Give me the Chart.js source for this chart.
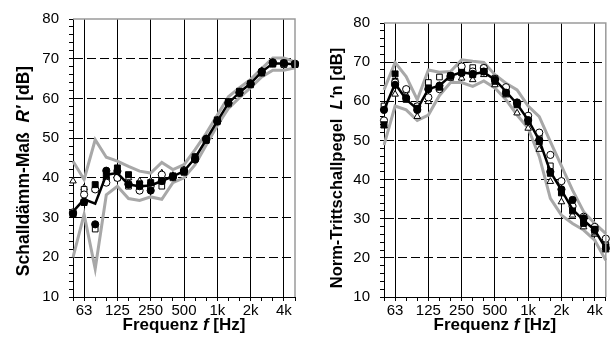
<!DOCTYPE html>
<html>
<head>
<meta charset="utf-8">
<script src="https://cdn.jsdelivr.net/npm/chart.js@4.4.1/dist/chart.umd.min.js"></script>
<style>
  html, body { margin: 0; padding: 0; background: #fff; }
  #wrap { position: relative; width: 611px; height: 342px; overflow: hidden; }
  canvas { position: absolute; top: 0; }
</style>
</head>
<body>
<div id="wrap">
  <canvas id="chart-r" width="305" height="342" style="left:0"></canvas>
  <canvas id="chart-l" width="306" height="342" style="left:305px"></canvas>
</div>
<script>
// third-octave bands 50 Hz .. 5 kHz
const bands = ['50', '63', '80', '100', '125', '160', '200', '250', '315', '400', '500',
               '630', '800', '1000', '1250', '1600', '2000', '2500', '3150', '4000', '5000'];
const tickLabels = ['', '63', '', '', '125', '', '', '250', '', '', '500',
                    '', '', '1k', '', '', '2k', '', '', '4k', ''];
const yTicks = { min: 10, max: 80, step: 2, labelEvery: 10 };

// --- Schalldämm-Maß R' ---
const rMean   = [31.5, 34.6, 33.5, 40.8, 41.2, 38.3, 37.9, 38.1, 39.2, 40.4, 41.7, 45.0, 49.6, 54.3, 58.8, 61.5, 63.8, 66.7, 68.8, 68.8, 68.6];
const rUpper  = [44.2, 39.6, 49.6, 45.2, 44.2, 42.9, 41.7, 41.2, 43.9, 42.1, 43.3, 47.1, 51.2, 55.8, 60.4, 62.7, 64.8, 67.5, 70.2, 70.2, 69.2];
const rLower  = [20.0, 30.8, 17.1, 35.7, 37.9, 34.8, 34.3, 35.2, 34.6, 38.8, 40.0, 43.3, 48.3, 53.2, 57.5, 60.2, 62.7, 65.4, 67.1, 67.1, 67.7];
const rDotA   = [31.0, 34.0, 28.3, 41.8, 41.7, 38.3, 37.9, 36.8, 39.2, 40.3, 41.7, 44.6, 49.8, 54.2, 58.9, 61.4, 63.6, 66.8, 69.1, 68.9, 68.7]; // ●
const rDotB   = [30.8, 33.8, 38.3, 40.5, 42.5, 40.8, 38.5, 38.8, 39.2, 40.5, 41.5, 45.3, 49.5, 54.6, 59.2, 61.8, 63.7, 66.4, 68.8, 68.9, 68.6]; // ■
const rDotC   = [31.3, 35.8, 37.1, 38.8, 40.0, 38.5, 36.8, 38.0, 40.8, 40.3, 41.9, 44.8, 49.8, 54.3, 58.8, 61.5, 63.8, 66.6, 68.9, 68.6, 68.7]; // ○
const rDotD   = [31.2, 37.1, 27.1, 39.5, 40.0, 37.9, 37.1, 37.9, 37.9, 40.0, 41.4, 44.8, 49.4, 54.1, 58.6, 61.3, 63.4, 66.5, 68.6, 68.5, 68.5]; // □
const rDotE   = [39.2, 37.5, 37.1, 40.0, 40.8, 40.0, 39.2, 39.2, 41.2, 40.6, 42.0, 45.2, 49.9, 54.6, 59.0, 61.7, 63.9, 67.0, 69.0, 68.7, 68.8]; // △

// --- Norm-Trittschallpegel L'n ---
const lMean   = [57.8, 64.5, 60.5, 58.0, 63.1, 64.0, 66.5, 67.4, 67.0, 67.4, 65.5, 62.5, 59.3, 55.2, 50.1, 42.0, 37.3, 32.4, 29.6, 27.1, 22.4];
const lUpper  = [62.9, 69.9, 66.3, 60.4, 68.0, 67.4, 67.6, 70.6, 70.2, 69.9, 66.8, 64.6, 62.9, 58.8, 56.1, 49.7, 43.5, 37.3, 31.8, 28.8, 26.2];
const lLower  = [48.8, 58.8, 57.8, 55.1, 56.5, 61.5, 64.8, 64.8, 63.8, 65.2, 63.4, 60.4, 56.5, 53.1, 45.9, 35.2, 30.9, 28.8, 27.1, 24.5, 19.4];
const lDotA   = [57.8, 64.2, 60.8, 57.8, 63.1, 64.0, 66.5, 67.2, 67.0, 67.6, 65.5, 62.2, 59.7, 55.2, 50.1, 42.0, 37.5, 34.8, 30.1, 27.1, 22.4]; // ●
const lDotB   = [54.0, 67.0, 60.5, 58.2, 63.4, 63.6, 66.5, 67.4, 66.8, 67.6, 65.1, 62.1, 59.1, 54.8, 49.7, 41.6, 36.6, 32.0, 28.8, 27.3, 22.8]; // ■
const lDotC   = [55.1, 64.8, 63.1, 58.7, 61.0, 63.1, 66.2, 68.9, 67.6, 68.5, 65.7, 63.6, 59.5, 56.3, 52.0, 46.3, 39.6, 33.2, 30.5, 27.9, 24.9]; // ○
const lDotD   = [58.8, 65.1, 62.9, 58.7, 64.8, 66.2, 66.2, 68.5, 68.6, 68.5, 65.9, 62.9, 59.3, 55.9, 51.4, 43.5, 36.9, 32.9, 29.2, 26.6, 23.3]; // □
const lDotE   = [53.7, 61.8, 61.6, 56.1, 59.9, 64.0, 65.9, 65.9, 65.5, 66.8, 64.2, 61.6, 57.0, 53.1, 47.7, 39.5, 34.3, 30.9, 27.9, 26.0, 22.0]; // △

const FONT = "'Liberation Sans', Arial, sans-serif";

function drawParts(ctx, parts, cx, cy, rot) {
    ctx.save();
    ctx.translate(cx, cy);
    ctx.rotate(rot);
    ctx.textBaseline = 'middle';
    ctx.textAlign = 'left';
    ctx.fillStyle = '#000';
    let total = 0;
    parts.forEach(p => { ctx.font = p.font; total += ctx.measureText(p.text).width; });
    let x = -total / 2;
    parts.forEach(p => {
        ctx.font = p.font;
        ctx.fillText(p.text, x, 0);
        x += ctx.measureText(p.text).width;
    });
    ctx.restore();
}

// gray frame on top/right + axis titles with italic symbols
const frameAndTitles = {
    id: 'frameAndTitles',
    afterDraw(chart, args, opts) {
        const { ctx, chartArea: a } = chart;
        ctx.save();
        ctx.strokeStyle = '#9a9a9a';
        ctx.lineWidth = 1.5;
        ctx.beginPath();
        ctx.moveTo(a.left, a.top);
        ctx.lineTo(a.right, a.top);
        ctx.lineTo(a.right, a.bottom);
        ctx.stroke();
        ctx.restore();
        drawParts(ctx, opts.xTitle, (a.left + a.right) / 2, opts.xTitleY, 0);
        drawParts(ctx, opts.yTitle, opts.yTitleX, opts.yTitleY, -Math.PI / 2);
    }
};

function markerSet(data, style, filled, radius) {
    return {
        data: data,
        showLine: false,
        pointStyle: style,
        pointRadius: radius,
        pointBackgroundColor: filled ? '#000' : '#fff',
        pointBorderColor: '#000',
        pointBorderWidth: 1
    };
}

function makeChart(id, s, layout) {
    const bold = '700 ' + layout.titleSize + 'px ' + FONT;
    const boldIt = 'italic 700 ' + layout.titleSize + 'px ' + FONT;
    return new Chart(document.getElementById(id), {
        type: 'line',
        data: {
            labels: bands,
            datasets: [
                markerSet(s.dotA, 'circle', true, 3.6),
                markerSet(s.dotB, 'rect', true, 4.2),
                { data: s.mean, borderColor: '#000', borderWidth: 2.5, pointRadius: 0, tension: 0 },
                markerSet(s.dotC, 'circle', false, 3.6),
                markerSet(s.dotD, 'rect', false, 4.0),
                markerSet(s.dotE, 'triangle', false, 3.8),
                { data: s.upper, borderColor: '#a8a8a8', borderWidth: 3, pointRadius: 0, tension: 0 },
                { data: s.lower, borderColor: '#a8a8a8', borderWidth: 3, pointRadius: 0, tension: 0 }
            ]
        },
        options: {
            responsive: false,
            animation: false,
            layout: { padding: { top: layout.top, right: layout.right, bottom: 0, left: 0 } },
            plugins: {
                legend: { display: false },
                tooltip: { enabled: false },
                frameAndTitles: {
                    xTitle: [
                        { text: 'Frequenz ', font: '700 17px ' + FONT },
                        { text: 'f', font: 'italic 700 17px ' + FONT },
                        { text: ' [Hz]', font: '700 17px ' + FONT }
                    ],
                    xTitleY: 325,
                    yTitle: [
                        { text: s.yTitleA, font: bold },
                        { text: s.yTitleSym, font: boldIt },
                        { text: s.yTitleB, font: bold }
                    ],
                    yTitleX: layout.titleX,
                    yTitleY: layout.titleY
                }
            },
            scales: {
                x: {
                    type: 'category',
                    offset: false,
                    afterFit: sc => { sc.height = 45; },
                    grid: {
                        offset: false,
                        color: c => (tickLabels[c.index] ? '#000' : 'rgba(0,0,0,0)'),
                        tickColor: '#000',
                        tickLength: 4,
                        lineWidth: 1
                    },
                    border: { color: '#000', width: 1 },
                    ticks: {
                        autoSkip: false,
                        maxRotation: 0,
                        padding: 1,
                        color: '#000',
                        font: { family: FONT, size: 15 },
                        callback: (v, i) => tickLabels[i]
                    }
                },
                y: {
                    min: yTicks.min,
                    max: yTicks.max,
                    afterFit: sc => { sc.width = layout.axisW; },
                    grid: {
                        color: c => (c.tick && c.tick.value % yTicks.labelEvery === 0 &&
                                     c.tick.value > yTicks.min && c.tick.value < yTicks.max) ? '#000' : 'rgba(0,0,0,0)',
                        tickColor: '#000',
                        tickLength: 4,
                        lineWidth: 1
                    },
                    border: { color: '#000', width: 1, dash: [9, 4] },
                    ticks: {
                        stepSize: yTicks.step,
                        autoSkip: false,
                        padding: 10,
                        color: '#000',
                        font: { family: FONT, size: 15 },
                        callback: v => (v % yTicks.labelEvery === 0 ? v : '')
                    }
                }
            }
        },
        plugins: [frameAndTitles]
    });
}

makeChart('chart-r', {
    mean: rMean, upper: rUpper, lower: rLower,
    dotA: rDotA, dotB: rDotB, dotC: rDotC, dotD: rDotD, dotE: rDotE,
    yTitleA: 'Schalldämm-Maß  ', yTitleSym: "R'", yTitleB: ' [dB]'
}, { top: 17, right: 10, axisW: 73, titleX: 24, titleY: 171, titleSize: 17.5 });

makeChart('chart-l', {
    mean: lMean, upper: lUpper, lower: lLower,
    dotA: lDotA, dotB: lDotB, dotC: lDotC, dotD: lDotD, dotE: lDotE,
    yTitleA: 'Norm-Trittschallpegel  ', yTitleSym: "L'", yTitleB: 'n [dB]'
}, { top: 23, right: 4, axisW: 79, titleX: 32, titleY: 168, titleSize: 16.5 });
</script>
</body>
</html>
